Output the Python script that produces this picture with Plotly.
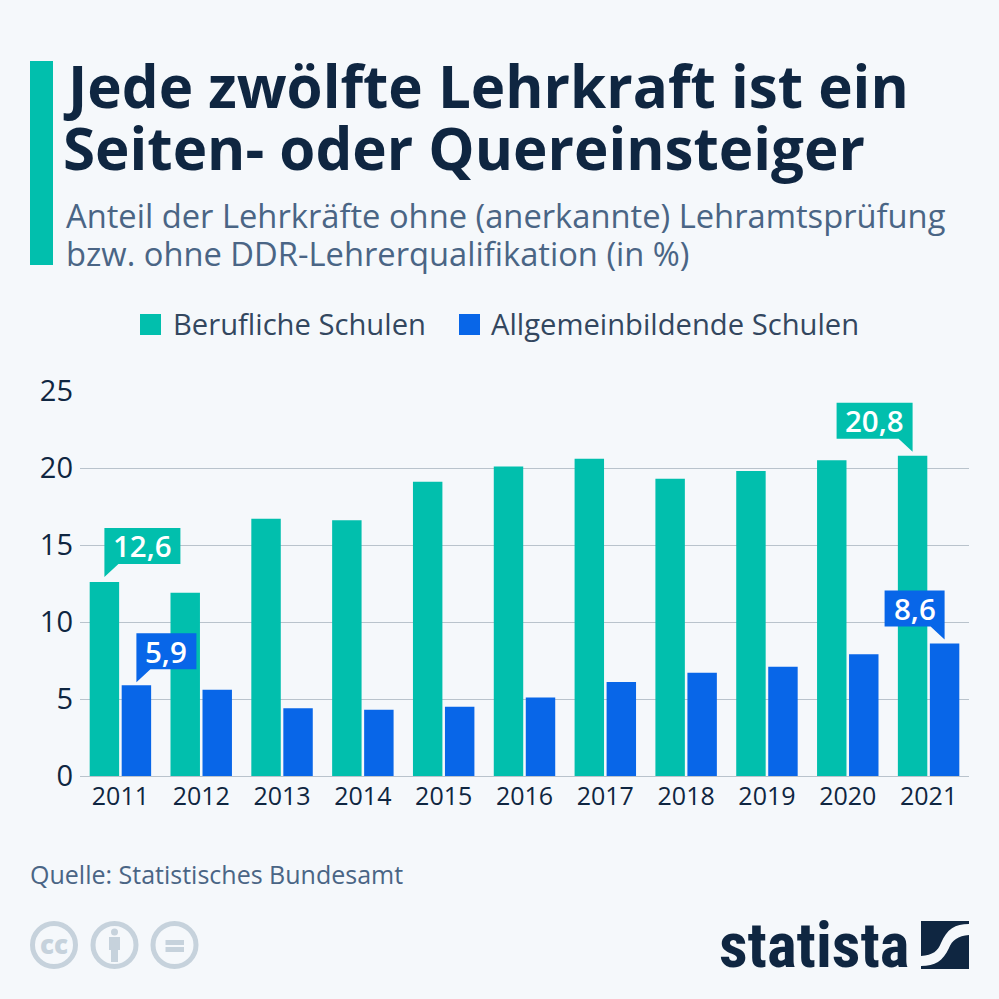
import plotly.graph_objects as go

#### Chart data
years = [2011, 2012, 2013, 2014, 2015, 2016, 2017, 2018, 2019, 2020, 2021]
berufliche = [12.6, 11.9, 16.7, 16.6, 19.1, 20.1, 20.6, 19.3, 19.8, 20.5, 20.8]
allgemein = [5.9, 5.6, 4.4, 4.3, 4.5, 5.1, 6.1, 6.7, 7.1, 7.9, 8.6]
y_ticks = [0, 5, 10, 15, 20, 25]
series_names = ['Berufliche Schulen', 'Allgemeinbildende Schulen']

TEAL = '#01bfad'
BLUE = '#0866e8'
NAVY = '#0f2641'
SLATE = '#4a6585'
BG = '#f5f8fb'
GRID = '#b9c3cc'
ICON = '#c6d2dc'
FONT = 'Open Sans'
W = 999
H = 999


# page pixels to paper coordinates, plot area is set by the margins below
L, R, T, B = 80, 30, 391, 223
def px(x):
    return (x - L) / (W - L - R)
def py(y):
    return 1 - (y - T) / (H - T - B)


fig = go.Figure()
fig.add_trace(go.Bar(x=years, y=berufliche, name=series_names[0], marker=dict(color=TEAL, line=dict(width=0))))
fig.add_trace(go.Bar(x=years, y=allgemein, name=series_names[1], marker=dict(color=BLUE, line=dict(width=0))))

shapes = []
annotations = []


def text(x, y, s, size, color, weight=400, xanchor='left', family=FONT):
    annotations.append(dict(x=px(x), y=py(y), xref='paper', yref='paper', text=s, showarrow=False,
                            xanchor=xanchor, yanchor='middle', align='left',
                            font=dict(family=family, size=size, color=color, weight=weight)))


def rect(x0, y0, x1, y1, color, layer='above'):
    shapes.append(dict(type='rect', xref='paper', yref='paper', x0=px(x0), x1=px(x1), y0=py(y0), y1=py(y1),
                       fillcolor=color, line=dict(width=0), layer=layer))


def circle(cx, cy, r, color, width=0, fill='rgba(0,0,0,0)'):
    shapes.append(dict(type='circle', xref='paper', yref='paper', x0=px(cx - r), x1=px(cx + r), y0=py(cy - r), y1=py(cy + r),
                       fillcolor=fill, line=dict(width=width, color=color)))


def callout(year, value, color, width, lift=0):
    # box with a pointer, anchored on the bar top through the axes
    flip = year == 2021
    bar_dx = -16 if color == TEAL else 16
    low, high, tip = 17 + lift, 53 + lift, 4 + lift
    if flip:
        path = (f'M {bar_dx} {tip} L {bar_dx} {high} L {bar_dx - width} {high} L {bar_dx - width} {low} '
                f'L {bar_dx - 14} {low} Z')
    else:
        path = (f'M {bar_dx} {tip} L {bar_dx} {high} L {bar_dx + width} {high} L {bar_dx + width} {low} '
                f'L {bar_dx + 14} {low} Z')
    centre = bar_dx - width / 2 if flip else bar_dx + width / 2
    shapes.append(dict(type='path', xref='x', yref='y', xsizemode='pixel', ysizemode='pixel',
                       xanchor=year, yanchor=value, path=path, fillcolor=color, line=dict(width=0), layer='above'))
    annotations.append(dict(x=year, y=value, xref='x', yref='y', text=f'{value}'.replace('.', ','), showarrow=False,
                            xshift=centre, yshift=35 + lift, xanchor='center', yanchor='middle',
                            font=dict(family=FONT, size=29.5, color='white', weight=600)))


callout(2011, berufliche[0], TEAL, 76, lift=1)
callout(2011, allgemein[0], BLUE, 60, lift=-1)
callout(2021, berufliche[-1], TEAL, 76)
callout(2021, allgemein[-1], BLUE, 60)

# Header
rect(30, 61, 53, 265, TEAL)
text(61, 85, 'Jede zwölfte Lehrkraft ist ein', 58.3, NAVY, 700)
text(61, 147, 'Seiten- oder Quereinsteiger', 58.3, NAVY, 700)
text(64, 215, 'Anteil der Lehrkräfte ohne (anerkannte) Lehramtsprüfung', 32.7, SLATE)
text(64, 253, 'bzw. ohne DDR-Lehrerqualifikation (in %)', 32.7, SLATE)

# Legend
rect(140, 314, 161, 335, TEAL)
text(171, 324, series_names[0], 29.2, '#33475f')
rect(459, 314, 480, 335, BLUE)
text(489, 324, series_names[1], 29.2, '#33475f')

# Footer
text(28, 874, 'Quelle: Statistisches Bundesamt', 25, SLATE)
for cx in [54, 114.5, 174.5]:
    circle(cx, 945, 21.5, ICON, width=5)
text(54, 944, 'cc', 26, ICON, 800, xanchor='center')
circle(114.5, 932, 3.5, ICON, fill=ICON)
rect(109, 937, 120, 950, ICON)
rect(111, 950, 118, 962, ICON)
rect(165.5, 940, 184, 945, ICON)
rect(165.5, 947, 184, 952, ICON)

# Logo
text(717, 945, 'statista', 63, NAVY, 700, family='Roboto Condensed, DejaVu Sans Condensed, Liberation Sans')
x0, y0, s = 921, 921, 48
shapes.append(dict(type='path', xref='paper', yref='paper', fillcolor=NAVY, line=dict(width=0),
                   path=(f'M {px(x0)} {py(y0)} L {px(x0 + s)} {py(y0)} L {px(x0 + s)} {py(y0 + 3)} '
                         f'C {px(x0 + 34)} {py(y0 + 3)} {px(x0 + 26)} {py(y0 + 8)} {px(x0 + 20)} {py(y0 + 22)} '
                         f'C {px(x0 + 17)} {py(y0 + 30)} {px(x0 + 12)} {py(y0 + 34)} {px(x0)} {py(y0 + 35)} Z')))
shapes.append(dict(type='path', xref='paper', yref='paper', fillcolor=NAVY, line=dict(width=0),
                   path=(f'M {px(x0 + s)} {py(y0 + s)} L {px(x0)} {py(y0 + s)} L {px(x0)} {py(y0 + 45)} '
                         f'C {px(x0 + 14)} {py(y0 + 45)} {px(x0 + 22)} {py(y0 + 40)} {px(x0 + 28)} {py(y0 + 27)} '
                         f'C {px(x0 + 31)} {py(y0 + 19)} {px(x0 + 37)} {py(y0 + 15)} {px(x0 + s)} {py(y0 + 14)} Z')))

fig.update_layout(
    width=W, height=H,
    margin=dict(l=L, r=R, t=T, b=B, autoexpand=False),
    paper_bgcolor=BG, plot_bgcolor=BG,
    barmode='group', bargap=0.208, bargroupgap=0.08,
    showlegend=False,
    shapes=shapes, annotations=annotations,
    font=dict(family=FONT, color=NAVY),
)
fig.update_xaxes(range=[2010.5, 2021.5], tickvals=years, tickformat='d', showgrid=False, showline=False,
                 ticks='', tickfont=dict(size=25, color=NAVY), ticklabelstandoff=3)
fig.update_yaxes(range=[0, 25], tickvals=y_ticks, gridcolor=GRID, gridwidth=1, zeroline=True, zerolinecolor=GRID,
                 zerolinewidth=1, ticks='', tickfont=dict(size=29, color=NAVY), ticklabelstandoff=6)

fig.write_html("out.html", config=dict(displayModeBar=False),
               post_script="document.body.style.margin='0';document.body.style.background='%s';" % BG)
